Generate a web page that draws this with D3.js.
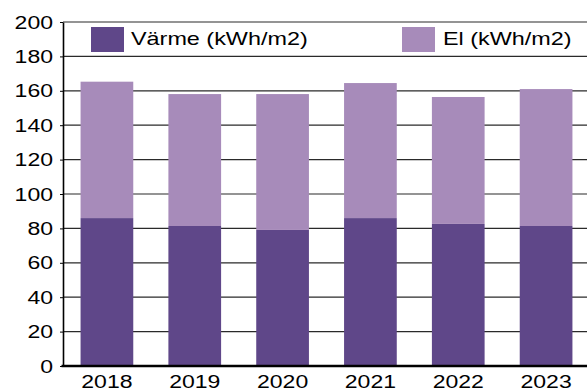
<!DOCTYPE html>
<html>
<head>
<meta charset="utf-8">
<script src="https://cdn.jsdelivr.net/npm/d3@7"></script>
<style>
  html, body { margin: 0; padding: 0; background: #fff; }
  svg { display: block; }
  text { font-family: "Liberation Sans", Arial, sans-serif; fill: #000; }
</style>
</head>
<body>
<svg id="chart" width="587" height="391"></svg>
<script>
// Energy use per square metre, split into heating and electricity
const years = ["2018", "2019", "2020", "2021", "2022", "2023"];
const varme = [86.0, 81.4, 79.1, 86.0, 82.6, 81.4];
const el = [79.3, 76.7, 79.0, 78.5, 73.8, 79.6];
const seriesNames = ["Värme (kWh/m2)", "El (kWh/m2)"];
const yTicks = [0, 20, 40, 60, 80, 100, 120, 140, 160, 180, 200];

const colors = ["#5f4789", "#a78bba"];
const SX = 1.28; // horizontal stretch of the lettering

const svg = d3.select("#chart");
const W = 587, H = 391;
const plotLeft = 63, plotTop = 22, plotBottom = 366, plotRight = 590;

const x = d3.scaleBand().domain(years).range([plotLeft, plotRight])
  .paddingInner(0.4).paddingOuter(0.2);
const y = d3.scaleLinear().domain([0, 200]).range([plotBottom, plotTop]);

// stacked rows
const rows = years.map((yr, i) => ({ year: yr, varme: varme[i], el: el[i] }));
const stack = d3.stack().keys(["varme", "el"])(rows);

// gridlines
svg.append("g").selectAll("line").data(yTicks.filter(d => d > 0)).join("line")
  .attr("x1", plotLeft).attr("x2", W)
  .attr("y1", d => y(d)).attr("y2", d => y(d))
  .attr("stroke", "#2a2a2a").attr("stroke-width", 1.2);

// bars
svg.append("g").selectAll("g").data(stack).join("g")
  .attr("fill", (d, i) => colors[i])
  .selectAll("rect").data(d => d).join("rect")
  .attr("x", d => x(d.data.year))
  .attr("width", x.bandwidth())
  .attr("y", d => y(d[1]))
  .attr("height", d => y(d[0]) - y(d[1]));

// left axis
const yAxis = svg.append("g").attr("transform", `translate(${plotLeft},0)`)
  .call(d3.axisLeft(y).tickValues(yTicks).tickSize(3).tickPadding(7).tickSizeOuter(0));
yAxis.select(".domain").attr("stroke", "#000").attr("stroke-width", 1.6);
yAxis.selectAll(".tick line").attr("stroke", "#000");
yAxis.selectAll(".tick text")
  .attr("font-size", 18)
  .attr("font-family", "Liberation Sans, Arial, sans-serif")
  .attr("x", -10 / SX)
  .attr("dy", "0.34em")
  .attr("transform", `scale(${SX},1)`);

// bottom axis
const xAxis = svg.append("g").attr("transform", `translate(0,${plotBottom})`)
  .call(d3.axisBottom(x).tickSize(0).tickPadding(9).tickSizeOuter(0));
xAxis.select(".domain").attr("stroke", "#000").attr("stroke-width", 2.4)
  .attr("d", `M${plotLeft - 1.5},0H${W}`);
xAxis.selectAll(".tick text")
  .attr("font-size", 18)
  .attr("font-family", "Liberation Sans, Arial, sans-serif")
  .attr("transform", `scale(${SX},1)`)
  .attr("dy", "0.72em");

// legend
const legendPos = [{ box: 91, text: 131 }, { box: 402, text: 443 }];
const legend = svg.append("g").selectAll("g").data(seriesNames).join("g");
legend.append("rect")
  .attr("x", (d, i) => legendPos[i].box).attr("y", 27)
  .attr("width", 33).attr("height", 25)
  .attr("fill", (d, i) => colors[i]);
legend.append("text")
  .attr("transform", (d, i) => `translate(${legendPos[i].text},45) scale(1.3,1)`)
  .attr("font-size", 18)
  .text(d => d);
</script>
</body>
</html>
